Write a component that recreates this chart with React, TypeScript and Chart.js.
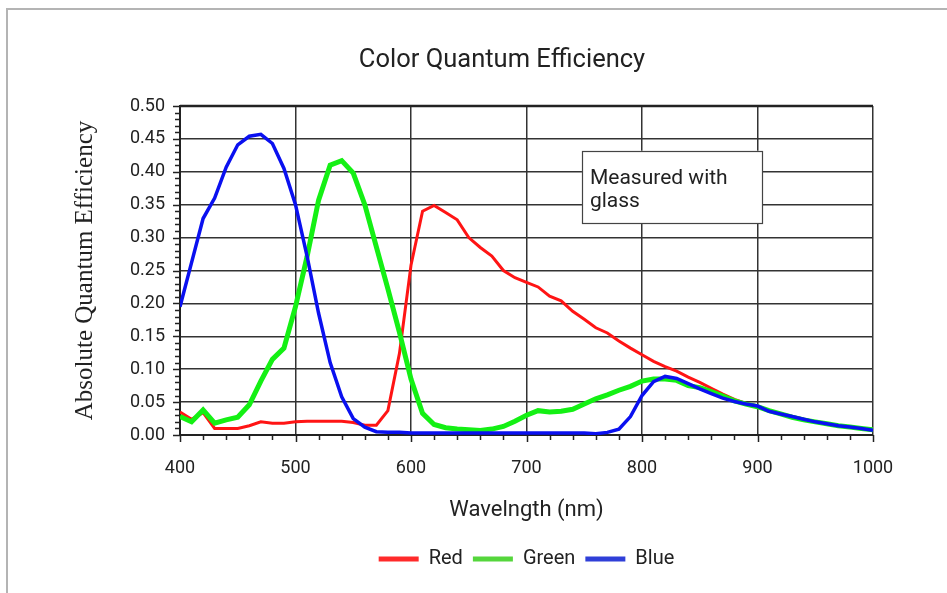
import React, { useEffect, useRef } from "react";
import { Chart, registerables } from "chart.js";

Chart.register(...registerables);

const wavelengths = [
  400, 410, 420, 430, 440, 450, 460, 470, 480, 490,
  500, 510, 520, 530, 540, 550, 560, 570, 580, 590,
  600, 610, 620, 630, 640, 650, 660, 670, 680, 690,
  700, 710, 720, 730, 740, 750, 760, 770, 780, 790,
  800, 810, 820, 830, 840, 850, 860, 870, 880, 890,
  900, 910, 920, 930, 940, 950, 960, 970, 980, 990, 1000,
];

const redQE = [
  0.035, 0.024, 0.034, 0.010, 0.010, 0.010, 0.014, 0.020, 0.018, 0.018,
  0.020, 0.021, 0.021, 0.021, 0.021, 0.019, 0.015, 0.015, 0.037, 0.124,
  0.258, 0.340, 0.349, 0.338, 0.327, 0.300, 0.285, 0.272, 0.250, 0.239,
  0.232, 0.225, 0.211, 0.204, 0.188, 0.176, 0.163, 0.155, 0.143, 0.132,
  0.122, 0.112, 0.104, 0.097, 0.088, 0.080, 0.071, 0.062, 0.054, 0.048,
  0.044, 0.037, 0.032, 0.028, 0.024, 0.020, 0.017, 0.014, 0.012, 0.010, 0.007,
];

const greenQE = [
  0.028, 0.020, 0.038, 0.018, 0.023, 0.027, 0.046, 0.082, 0.115, 0.132,
  0.195, 0.271, 0.357, 0.410, 0.417, 0.398, 0.350, 0.286, 0.222, 0.156,
  0.085, 0.033, 0.016, 0.011, 0.009, 0.008, 0.007, 0.009, 0.013, 0.021,
  0.030, 0.037, 0.035, 0.036, 0.039, 0.047, 0.055, 0.061, 0.068, 0.074,
  0.082, 0.085, 0.085, 0.083, 0.075, 0.072, 0.066, 0.059, 0.052, 0.047,
  0.043, 0.037, 0.032, 0.027, 0.023, 0.020, 0.017, 0.014, 0.012, 0.010, 0.008,
];

const blueQE = [
  0.195, 0.262, 0.329, 0.360, 0.407, 0.441, 0.454, 0.457, 0.443, 0.405,
  0.350, 0.272, 0.185, 0.110, 0.058, 0.025, 0.012, 0.005, 0.004, 0.004,
  0.003, 0.003, 0.003, 0.003, 0.003, 0.003, 0.003, 0.003, 0.003, 0.003,
  0.003, 0.003, 0.003, 0.003, 0.003, 0.003, 0.002, 0.004, 0.009, 0.028,
  0.060, 0.081, 0.089, 0.086, 0.078, 0.070, 0.063, 0.056, 0.051, 0.047,
  0.044, 0.036, 0.032, 0.028, 0.024, 0.020, 0.017, 0.014, 0.012, 0.010, 0.007,
];

const seriesNames = ["Red", "Green", "Blue"];
const chartTitle = "Color Quantum Efficiency";
const xAxisTitle = "Wavelngth (nm)";
const yAxisTitle = "Absolute Quantum Efficiency";
const noteLines = ["Measured with", "glass"];

const SANS = "Roboto, 'Open Sans', sans-serif";

const toPoints = (vals: number[]) => wavelengths.map((x, i) => ({ x, y: vals[i] }));

const framePlugin = {
  id: "frame",
  beforeDraw(chart: any) {
    const ctx = chart.ctx;
    ctx.save();
    ctx.fillStyle = "#ffffff";
    ctx.fillRect(0, 0, chart.width, chart.height);
    ctx.strokeStyle = "#b4b4b4";
    ctx.lineWidth = 2;
    ctx.beginPath();
    ctx.moveTo(7, chart.height);
    ctx.lineTo(7, 9);
    ctx.lineTo(chart.width, 9);
    ctx.stroke();
    ctx.restore();
  },
  afterDraw(chart: any) {
    const ctx = chart.ctx;
    ctx.save();
    ctx.fillStyle = "#222";
    ctx.font = `25.5px ${SANS}`;
    ctx.textAlign = "center";
    ctx.textBaseline = "alphabetic";
    ctx.fillText(chartTitle, 502, 67);
    ctx.restore();
  },
};

const ticksPlugin = {
  id: "minorTicks",
  afterDraw(chart: any) {
    const ctx = chart.ctx;
    const xs = chart.scales.x;
    const ys = chart.scales.y;
    const { left, right, top, bottom } = chart.chartArea;
    ctx.save();
    ctx.strokeStyle = "#222";
    ctx.lineWidth = 1.5;
    ctx.beginPath();
    for (let i = 0; i <= 50; i++) {
      const v = i / 100;
      const py = Math.round(ys.getPixelForValue(v)) + 0.5;
      const len = i % 5 === 0 ? 7 : 5;
      ctx.moveTo(left - len, py);
      ctx.lineTo(left, py);
    }
    for (let w = 400; w <= 1000; w += 20) {
      const px = Math.round(xs.getPixelForValue(w)) + 0.5;
      const len = w % 100 === 0 ? 7 : 5;
      ctx.moveTo(px, bottom);
      ctx.lineTo(px, bottom + len);
    }
    ctx.stroke();
    ctx.lineWidth = 2.5;
    ctx.beginPath();
    ctx.moveTo(left, top);
    ctx.lineTo(right, top);
    ctx.stroke();
    ctx.restore();
  },
};

const notePlugin = {
  id: "note",
  afterDatasetsDraw(chart: any) {
    const ctx = chart.ctx;
    const xs = chart.scales.x;
    const ys = chart.scales.y;
    const x0 = xs.getPixelForValue(748);
    const x1 = xs.getPixelForValue(904);
    const y0 = ys.getPixelForValue(0.432);
    const y1 = ys.getPixelForValue(0.322);
    ctx.save();
    ctx.fillStyle = "#ffffff";
    ctx.fillRect(x0, y0, x1 - x0, y1 - y0);
    ctx.strokeStyle = "#444";
    ctx.lineWidth = 1.2;
    ctx.strokeRect(Math.round(x0) + 0.5, Math.round(y0) + 0.5, Math.round(x1 - x0), Math.round(y1 - y0));
    ctx.fillStyle = "#222";
    ctx.font = `21px ${SANS}`;
    ctx.textBaseline = "alphabetic";
    ctx.textAlign = "left";
    ctx.fillText(noteLines[0], x0 + 8, y0 + 33);
    ctx.fillText(noteLines[1], x0 + 8, y0 + 56);
    ctx.restore();
  },
};

export default function App() {
  const ref = useRef<HTMLCanvasElement | null>(null);

  useEffect(() => {
    if (!ref.current) return;
    const chart = new Chart(ref.current, {
      type: "line",
      data: {
        datasets: [
          {
            label: seriesNames[0],
            data: toPoints(redQE),
            borderColor: "#ff1414",
            backgroundColor: "#ff2a2a",
            borderWidth: 3,
            pointRadius: 0,
            tension: 0,
            order: 3,
          },
          {
            label: seriesNames[1],
            data: toPoints(greenQE),
            borderColor: "#14f014",
            backgroundColor: "#55d63c",
            borderWidth: 5,
            pointRadius: 0,
            tension: 0,
            order: 2,
          },
          {
            label: seriesNames[2],
            data: toPoints(blueQE),
            borderColor: "#0a10f0",
            backgroundColor: "#2f3fd8",
            borderWidth: 3.5,
            pointRadius: 0,
            tension: 0,
            order: 1,
          },
        ],
      },
      options: {
        animation: false,
        responsive: false,
        events: [],
        layout: { padding: { left: 0, right: 74, top: 106, bottom: 14 } },
        plugins: {
          tooltip: { enabled: false },
          title: { display: false },
          legend: {
            display: true,
            position: "bottom",
            fullSize: false,
            labels: {
              color: "#222",
              font: { family: SANS, size: 20 },
              boxWidth: 40,
              boxHeight: 5,
              padding: 10,
              sort: (a: any, b: any) => a.datasetIndex - b.datasetIndex,
              generateLabels: (chart: any) =>
                (Chart.defaults.plugins.legend.labels.generateLabels as any)(chart).map((l: any) => ({
                  ...l,
                  lineWidth: 0,
                })),
            },
          },
        },
        scales: {
          x: {
            type: "linear",
            min: 400,
            max: 1000,
            ticks: {
              stepSize: 100,
              color: "#222",
              font: { family: SANS, size: 18 },
              padding: 14,
              maxRotation: 0,
              callback: (v: any) => String(v),
            },
            grid: { color: "#333", lineWidth: 1.5, tickLength: 9, tickColor: "rgba(0,0,0,0)" },
            border: { color: "#222", width: 2 },
            title: {
              display: true,
              text: xAxisTitle,
              color: "#222",
              font: { family: SANS, size: 22 },
              padding: { top: 0, bottom: 15 },
            },
            afterFit: (s: any) => {
              s.height = 104;
            },
          },
          y: {
            min: 0,
            max: 0.5,
            ticks: {
              stepSize: 0.05,
              color: "#222",
              font: { family: SANS, size: 18 },
              padding: 6,
              callback: (v: any) => Number(v).toFixed(2),
            },
            grid: { color: "#333", lineWidth: 1.5, tickLength: 9, tickColor: "rgba(0,0,0,0)" },
            border: { color: "#222", width: 2 },
            title: {
              display: true,
              text: yAxisTitle,
              color: "#222",
              font: { family: "'Liberation Serif', 'Times New Roman', serif", size: 25 },
              padding: { top: 70, bottom: 0 },
            },
            afterFit: (s: any) => {
              s.width = 180;
            },
          },
        },
      },
      plugins: [framePlugin, ticksPlugin, notePlugin],
    });
    return () => chart.destroy();
  }, []);

  return (
    <div style={{ position: "fixed", left: 0, top: 0, width: 947, height: 593, background: "#fff" }}>
      <canvas ref={ref} width={947} height={593} style={{ display: "block" }} />
    </div>
  );
}
